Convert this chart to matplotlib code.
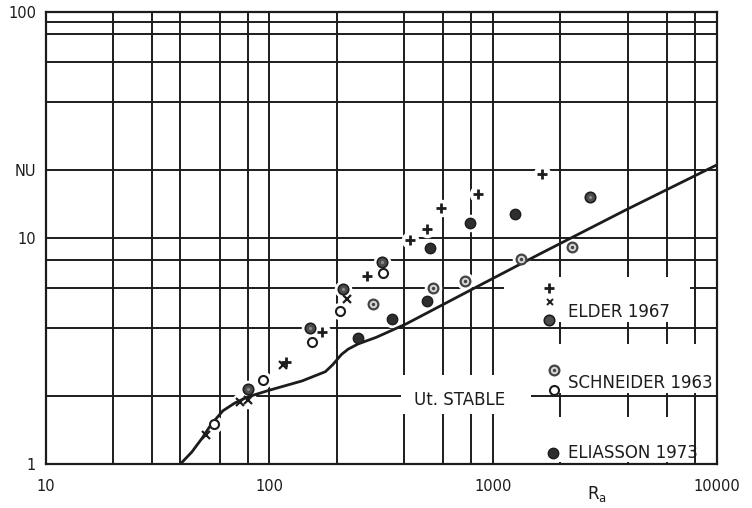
import matplotlib.pyplot as plt
from matplotlib.patches import Rectangle
from matplotlib.ticker import NullLocator

# Nusselt number vs Rayleigh number, porous layer heated from below
curve_ra = [40, 45, 50, 55, 62, 70, 80, 100, 140, 178, 192, 210, 225, 250, 300, 408, 837, 1615, 3930, 10000]
curve_nu = [1.0, 1.13, 1.3, 1.5, 1.72, 1.86, 1.98, 2.12, 2.33, 2.56, 2.75, 3.05, 3.22, 3.4, 3.63, 4.16, 6.04, 8.48, 13.3, 21.0]

elder_plus_ra = [119, 171, 272, 425, 509, 583, 859, 1649]
elder_plus_nu = [2.83, 3.82, 6.75, 9.8, 10.9, 13.6, 15.6, 19.1]

elder_x_ra = [52, 74, 80, 115, 223]
elder_x_nu = [1.34, 1.88, 1.92, 2.74, 5.36]

elder_dot_ra = [80, 152, 214, 318, 2711]
elder_dot_nu = [2.15, 3.99, 5.94, 7.8, 15.2]

schneider_dot_ra = [291, 541, 749, 1329, 2244]
schneider_dot_nu = [5.1, 5.98, 6.44, 8.06, 9.14]

schneider_open_ra = [56.5, 94, 155, 207, 323]
schneider_open_nu = [1.50, 2.35, 3.45, 4.73, 6.97]

eliasson_ra = [250, 352, 505, 522, 789, 1253]
eliasson_nu = [3.62, 4.38, 5.26, 9.0, 11.6, 12.7]

x_grid = [20, 30, 40, 60, 80, 100, 200, 400, 600, 800, 1000, 2000, 4000, 6000, 8000]
y_grid = [2, 4, 6, 8, 10, 20, 40, 60, 80, 90]

x_ticks = [10, 100, 1000, 10000]
x_labels = ['10', '100', '1000', '10000']
y_ticks = [1, 10, 20, 100]
y_labels = ['1', '10', 'NU', '100']

ink = '#1c1c1c'

fig = plt.figure(figsize=(7.52, 5.08), dpi=100)
ax = fig.add_axes([0.0608, 0.0866, 0.8923, 0.8904])
ax.set_xscale('log')
ax.set_yscale('log')
ax.set_xlim(10, 10000)
ax.set_ylim(1, 100)

# hand drawn grid
for x in x_grid:
    ax.axvline(x, color=ink, lw=1.4, zorder=1)
for y in y_grid:
    ax.axhline(y, color=ink, lw=1.4, zorder=1)

# erased parts of the grid behind the lettering
blank = [
    (0.683, 0.314, 0.277, 0.099),
    (0.737, 0.158, 0.256, 0.107),
    (0.737, 0.004, 0.223, 0.100),
    (0.530, 0.111, 0.193, 0.086),
]
for x0, y0, w, h in blank:
    ax.add_patch(Rectangle((x0, y0), w, h, transform=ax.transAxes,
                           fc='white', ec='none', zorder=1.2))

# white halo under every point
all_ra = (elder_plus_ra + elder_x_ra + elder_dot_ra + schneider_dot_ra
          + schneider_open_ra + eliasson_ra)
all_nu = (elder_plus_nu + elder_x_nu + elder_dot_nu + schneider_dot_nu
          + schneider_open_nu + eliasson_nu)
ax.scatter(all_ra, all_nu, s=160, c='white', linewidths=0, zorder=2)

ax.plot(curve_ra, curve_nu, color=ink, lw=2.0, zorder=3, solid_capstyle='round')

ax.plot(elder_plus_ra, elder_plus_nu, ls='none', marker='+', ms=7, mew=2.0,
        color=ink, zorder=4)
ax.plot(elder_x_ra, elder_x_nu, ls='none', marker='x', ms=5.5, mew=1.6,
        color=ink, zorder=4)
ax.plot(elder_dot_ra, elder_dot_nu, ls='none', marker='o', ms=7.5, mfc='#4d4d4d',
        mec=ink, mew=1.2, zorder=4)
ax.plot(elder_dot_ra, elder_dot_nu, ls='none', marker='o', ms=2.3, mfc='#8a8a8a',
        mec='none', zorder=4.1)
ax.plot(schneider_dot_ra, schneider_dot_nu, ls='none', marker='o', ms=7,
        mfc='#d8d8d8', mec='#444444', mew=1.6, zorder=4)
ax.plot(schneider_dot_ra, schneider_dot_nu, ls='none', marker='o', ms=2.5,
        mfc='#444444', mec='none', zorder=4.1)
ax.plot(schneider_open_ra, schneider_open_nu, ls='none', marker='o', ms=6.5,
        mfc='white', mec=ink, mew=1.5, zorder=4)
ax.plot(eliasson_ra, eliasson_nu, ls='none', marker='o', ms=7.5, mfc='#2e2e2e',
        mec=ink, mew=1.0, zorder=4)

# key, lettered inside the plot
tr = ax.transAxes
ax.plot(0.750, 0.389, marker='+', ms=6.5, mew=2.0, color=ink, transform=tr, zorder=4)
ax.plot(0.751, 0.358, marker='x', ms=4.5, mew=1.4, color=ink, transform=tr, zorder=4)
ax.plot(0.750, 0.318, marker='o', ms=7.5, mfc='#4d4d4d', mec=ink, mew=1.2,
        transform=tr, zorder=4)
ax.plot(0.7575, 0.208, marker='o', ms=7, mfc='#d8d8d8', mec='#444444', mew=1.6,
        transform=tr, zorder=4)
ax.plot(0.7575, 0.208, marker='o', ms=2.4, mfc='#444444', mec='none',
        transform=tr, zorder=4.1)
ax.plot(0.7575, 0.164, marker='o', ms=6.5, mfc='white', mec=ink, mew=1.5,
        transform=tr, zorder=4)
ax.plot(0.756, 0.0243, marker='o', ms=7.5, mfc='#2e2e2e', mec=ink, mew=1.0,
        transform=tr, zorder=4)

key_style = dict(transform=tr, fontsize=12, color=ink, va='center', ha='left',
                 zorder=5)
ax.text(0.7784, 0.336, 'ELDER 1967', **key_style)
ax.text(0.7784, 0.179, 'SCHNEIDER 1963', **key_style)
ax.text(0.7784, 0.0243, 'ELIASSON 1973', **key_style)
ax.text(0.616, 0.1415, 'Ut. STABLE', transform=tr, fontsize=12, color=ink,
        va='center', ha='center', zorder=5)

ax.text(0.822, -0.045, r'R$_\mathregular{a}$', transform=tr, fontsize=12,
        color=ink, ha='center', va='top')

ax.set_xticks(x_ticks, x_labels)
ax.set_yticks(y_ticks, y_labels)
ax.xaxis.set_minor_locator(NullLocator())
ax.yaxis.set_minor_locator(NullLocator())
ax.tick_params(length=0, labelsize=10.5, labelcolor=ink)
ax.tick_params(axis='x', pad=11)
ax.tick_params(axis='y', pad=7)

for s in ax.spines.values():
    s.set_color(ink)
    s.set_linewidth(1.6)
    s.set_zorder(5)

fig.savefig('out.png', dpi=100, facecolor='white')
